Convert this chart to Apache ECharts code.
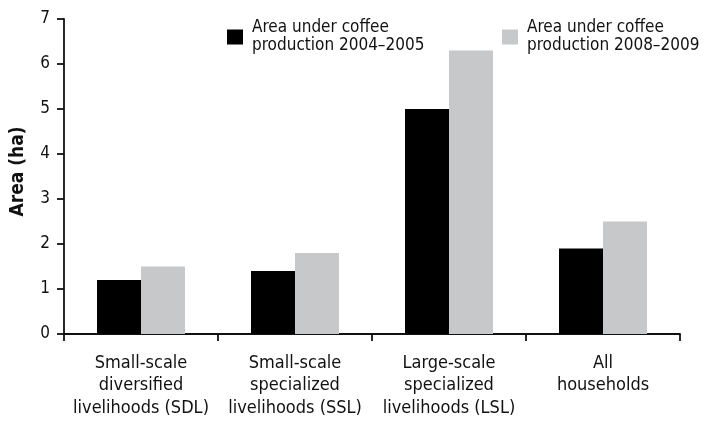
<!DOCTYPE html>
<html><head><meta charset="utf-8">
<script src="https://cdn.jsdelivr.net/npm/echarts@6/dist/echarts.min.js"></script>
<style>html,body{margin:0;padding:0;background:#fff}#c{width:710px;height:421px}</style>
</head><body><div id="c"></div>
<script>
const categories = [
  "Small-scale\ndiversified\nlivelihoods (SDL)",
  "Small-scale\nspecialized\nlivelihoods (SSL)",
  "Large-scale\nspecialized\nlivelihoods (LSL)",
  "All\nhouseholds"
];
const series2004 = [1.2, 1.4, 5.0, 1.9];
const series2008 = [1.5, 1.8, 6.3, 2.5];
const seriesNames = ["Area under coffee\nproduction 2004\u20132005", "Area under coffee\nproduction 2008\u20132009"];
const yTicks = [0, 1, 2, 3, 4, 5, 6, 7];

const FONT = '"Liberation Sans Narrow", "DejaVu Sans Condensed", "Liberation Sans", sans-serif';
const chart = echarts.init(document.getElementById('c'));
const legendCommon = {
  orient: 'horizontal', top: 19, padding: 0, itemWidth: 16, itemHeight: 15,
  icon: 'rect', selectedMode: false,
  textStyle: { fontFamily: FONT, fontSize: 17, color: '#111', lineHeight: 18, padding: [0,0,0,4] }
};
chart.setOption({
  animation: false,
  grid: { left: 64, right: 30, top: 19, bottom: 87, containLabel: false },
  legend: [
    Object.assign({}, legendCommon, { left: 227, data: [seriesNames[0]] }),
    Object.assign({}, legendCommon, { left: 502, data: [seriesNames[1]] })
  ],
  xAxis: {
    type: 'category', data: categories,
    axisLine: { lineStyle: { color: '#111', width: 1.8 } },
    axisTick: { show: true, alignWithLabel: false, length: 7, lineStyle: { color: '#111', width: 1.8 } },
    axisLabel: { fontFamily: FONT, fontSize: 18, color: '#111', lineHeight: 22.5, margin: 18, interval: 0 }
  },
  yAxis: {
    type: 'value', min: yTicks[0], max: yTicks[yTicks.length - 1], interval: 1,
    name: 'Area (ha)', nameLocation: 'middle', nameGap: 36,
    nameTextStyle: { fontFamily: FONT, fontSize: 19, fontWeight: 'bold', color: '#111', padding: [0,0,0,10] },
    axisLine: { show: true, lineStyle: { color: '#111', width: 1.8 } },
    axisTick: { show: true, length: 7, lineStyle: { color: '#111', width: 1.8 } },
    splitLine: { show: false },
    axisLabel: { fontFamily: FONT, fontSize: 17, color: '#111', margin: 14 }
  },
  series: [
    { name: seriesNames[0], type: 'bar', data: series2004, barWidth: 44, barGap: '0%', itemStyle: { color: '#000' } },
    { name: seriesNames[1], type: 'bar', data: series2008, barWidth: 44, barGap: '0%', itemStyle: { color: '#c7c8ca' } }
  ]
});
</script></body></html>
